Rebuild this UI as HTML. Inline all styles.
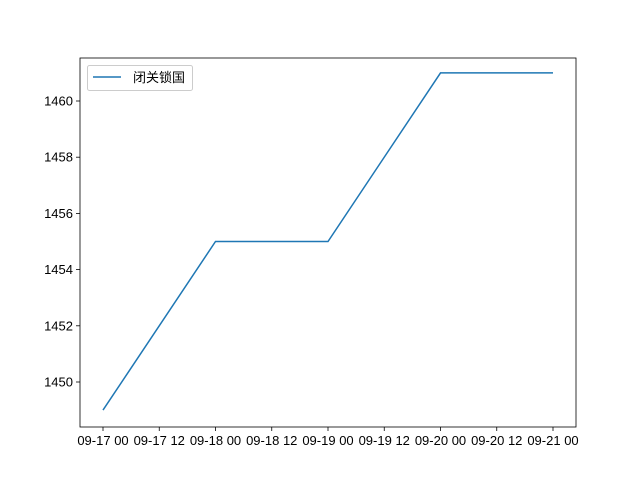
<!DOCTYPE html>
<html><head><meta charset="utf-8"><style>
html,body{margin:0;padding:0;background:#fff;}
svg text{font-family:"Liberation Sans","DejaVu Sans","Noto Sans CJK SC",sans-serif;font-size:13px;fill:#000;}
</style></head><body>
<svg id="chart" width="640" height="480" xmlns="http://www.w3.org/2000/svg">
<rect x="0" y="0" width="640" height="480" fill="#fff"/>
<g id="plot"></g>
</svg>
<script>
const dayIndex = [0, 1, 2, 3, 4];
const values = [1449, 1455, 1455, 1461, 1461];
const xTickValues = [0, 0.5, 1, 1.5, 2, 2.5, 3, 3.5, 4];
const xTickLabels = ["09-17 00","09-17 12","09-18 00","09-18 12","09-19 00","09-19 12","09-20 00","09-20 12","09-21 00"];
const yTickValues = [1450, 1452, 1454, 1456, 1458, 1460];
const seriesName = "闭关锁国";

const L=80,R=576,T=58,B=427;
function xs(d){return 103 + d*112.5;}
function ys(v){return 382 - (v-1450)*28.1;}
const NS="http://www.w3.org/2000/svg";
const g=document.getElementById('plot');
function mk(tag,attrs,txt){const e=document.createElementNS(NS,tag);for(const k in attrs)e.setAttribute(k,attrs[k]);if(txt!==undefined)e.textContent=txt;g.appendChild(e);return e;}

const xTicksG=[];
xTickValues.forEach((d,i)=>{
  const x=xs(d);
  const t=mk('line',{x1:x,x2:x,y1:B,y2:B+4,stroke:'#000','stroke-width':0.8});
  
  
  const lb=mk('text',{x:x,y:B+18,'text-anchor':'middle'},xTickLabels[i]);
  
  
});
yTickValues.forEach(v=>{
  const y=ys(v);
  const t=mk('line',{x1:L-4,x2:L,y1:y,y2:y,stroke:'#000','stroke-width':0.8});
  
  
  const lb=mk('text',{x:L-7,y:y+4.5,'text-anchor':'end'},String(v));
  
  
});

const pts=dayIndex.map((d,i)=>xs(d)+','+ys(values[i])).join(' ');
const line=mk('polyline',{points:pts,fill:'none',stroke:'#1f77b4','stroke-width':1.5});



const frame=mk('rect',{x:L,y:T,width:R-L,height:B-T,fill:'none',stroke:'#000','stroke-width':0.8});



const lg=mk('rect',{x:87.5,y:65.5,width:105,height:25,rx:2,fill:'#fff','fill-opacity':0.8,stroke:'#ccc','stroke-width':1});


const ll=mk('line',{x1:93,x2:121,y1:77,y2:77,stroke:'#1f77b4','stroke-width':1.5});


const lt=mk('text',{x:133,y:82},seriesName);


</script>
</body></html>
